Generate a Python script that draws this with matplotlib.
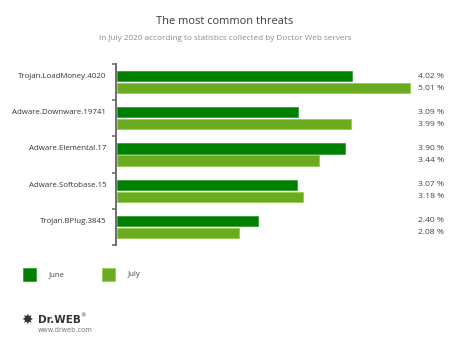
import matplotlib
matplotlib.use("Agg")
import matplotlib.pyplot as plt
from matplotlib.patches import Rectangle
import numpy as np

categories = ["Trojan.LoadMoney.4020", "Adware.Downware.19741", "Adware.Elemental.17",
              "Adware.Softobase.15", "Trojan.BPlug.3845"]
june = [4.02, 3.09, 3.90, 3.07, 2.40]
july = [5.01, 3.99, 3.44, 3.18, 2.08]
series_names = ["June", "July"]

C_JUNE = "#008000"
C_JUNE_E = "#3aa03a"
C_JULY = "#6aaa1e"
C_JULY_E = "#96cc50"

W, H = 450, 344
fig = plt.figure(figsize=(W / 100, H / 100), dpi=100)
fig.patch.set_facecolor("white")

def fx(px):
    return px / W

def fy(py):
    return 1 - py / H

ax_left, ax_right, ax_top, ax_bot = 116, 411, 64, 245
ax = fig.add_axes([fx(ax_left), fy(ax_bot), fx(ax_right - ax_left), (ax_bot - ax_top) / H])
ax.set_facecolor("none")

n = len(categories)
y = np.arange(n)
bh = 0.28
off = 0.165
ax.barh(y - off, june, height=bh, color=C_JUNE, edgecolor=C_JUNE_E, linewidth=0.6, left=0.02)
ax.barh(y + off, july, height=bh, color=C_JULY, edgecolor=C_JULY_E, linewidth=0.6, left=0.02)
ax.set_xlim(0, 5.04)
ax.set_ylim(n - 0.5, -0.5)

for s in ["top", "right", "bottom"]:
    ax.spines[s].set_visible(False)
ax.spines["left"].set_color("#6e6e6e")
ax.spines["left"].set_linewidth(1.4)
ax.set_xticks([])
ax.set_yticks(np.arange(-0.5, n, 1.0))
ax.set_yticklabels([])
ax.tick_params(axis="y", length=3, width=1.2, color="#6e6e6e")

for i, cat in enumerate(categories):
    ax.annotate(cat, xy=(0, i - off), xycoords=("axes fraction", "data"), xytext=(-7, -0.3),
                textcoords="offset points", ha="right", va="center", fontsize=5.7,
                color="#333333", family="Open Sans")

for i, (a, b) in enumerate(zip(june, july)):
    ax.annotate(f"{a:.2f} %", xy=(1, i - off), xycoords=("axes fraction", "data"),
                xytext=(5, 0), textcoords="offset points", ha="left", va="center",
                fontsize=6.1, color="#444444", family="Open Sans")
    ax.annotate(f"{b:.2f} %", xy=(1, i + off), xycoords=("axes fraction", "data"),
                xytext=(5, 0), textcoords="offset points", ha="left", va="center",
                fontsize=6.1, color="#444444", family="Open Sans")

fig.text(0.5, fy(22), "The most common threats", ha="center", va="center",
         fontsize=7.9, color="#3c3c3c", family="Open Sans")
fig.text(0.5, fy(38.5), "In July 2020 according to statistics collected by Doctor Web servers",
         ha="center", va="center", fontsize=5.9, color="#8a8a8a", family="Open Sans")

# legend
for (x0, name, fc, ec) in [(23, series_names[0], C_JUNE, C_JUNE_E), (102, series_names[1], C_JULY, C_JULY_E)]:
    fig.patches.append(Rectangle((fx(x0), fy(281)), fx(13), 13 / H, transform=fig.transFigure,
                                 facecolor=fc, edgecolor=ec, linewidth=0.6))
    fig.text(fx(x0 + 26), fy(275), name, ha="left", va="center", fontsize=5.6,
             color="#444444", family="Open Sans")

# logo
fig.text(fx(21), fy(320), "\u2738", ha="left", va="center", fontsize=10, color="#333333")
fig.text(fx(38), fy(320), "Dr.WEB", ha="left", va="center", fontsize=7.5,
         fontweight="bold", color="#333333")
fig.text(fx(80), fy(316), "\u00ae", ha="left", va="center", fontsize=4, color="#333333")
fig.text(fx(38), fy(330), "www.drweb.com", ha="left", va="center", fontsize=4.8, color="#777777")

fig.savefig("out.png", dpi=100, facecolor="white")
